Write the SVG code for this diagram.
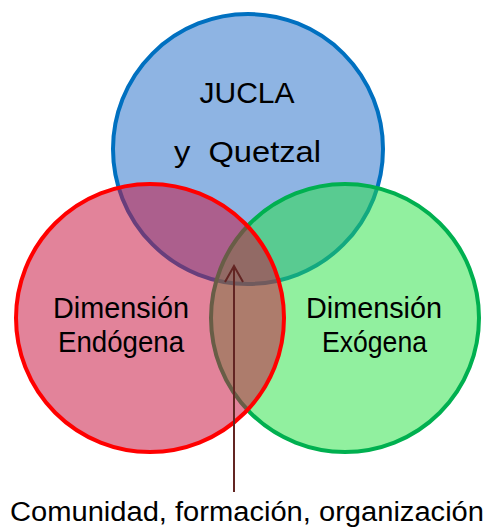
<svg xmlns="http://www.w3.org/2000/svg" width="485" height="527" viewBox="0 0 485 527">
<style>
.c{stroke-width:4}
.t{font-family:"Liberation Sans",Arial,sans-serif;fill:#000;text-anchor:middle}
</style>
<defs>
<marker id="ah" viewBox="0 0 20 20" refX="18" refY="10" markerWidth="20" markerHeight="20" markerUnits="userSpaceOnUse" orient="auto">
<path d="M2,1 L18,10 L2,19" fill="none" stroke="#632523" stroke-width="2"/>
</marker>
</defs>
<rect width="485" height="527" fill="#fff"/>
<g id="blue">
<circle class="c" cx="248" cy="149" r="135" fill="#8EB4E3" stroke="#0070C0"/>
<text class="t" x="247" y="103" font-size="30">JUCLA</text>
<text class="t" x="247.5" y="162" font-size="30" xml:space="preserve" textLength="147" lengthAdjust="spacingAndGlyphs">y  Quetzal</text>
</g>
<g id="green">
<circle class="c" cx="345" cy="318" r="134" fill="rgb(35,225,63)" fill-opacity="0.5" stroke="#00B050"/>
<text class="t" x="374" y="318" font-size="29" textLength="136" lengthAdjust="spacingAndGlyphs">Dimensión</text>
<text class="t" x="374.5" y="352" font-size="29" textLength="105" lengthAdjust="spacingAndGlyphs">Exógena</text>
</g>
<g id="red">
<circle class="c" cx="150" cy="318" r="134" fill="rgb(199,17,62)" fill-opacity="0.52" stroke="#FF0000"/>
<text class="t" x="121" y="318" font-size="29" textLength="136" lengthAdjust="spacingAndGlyphs">Dimensión</text>
<text class="t" x="121" y="352" font-size="29" textLength="126" lengthAdjust="spacingAndGlyphs">Endógena</text>
</g>
<g id="connectors">
<line x1="234" y1="492" x2="234" y2="266" stroke="#632523" stroke-width="2" marker-end="url(#ah)"/>
</g>
<g id="label">
<text class="t" x="247" y="521" font-size="27" textLength="474" lengthAdjust="spacingAndGlyphs">Comunidad, formación, organización</text>
</g>
</svg>
